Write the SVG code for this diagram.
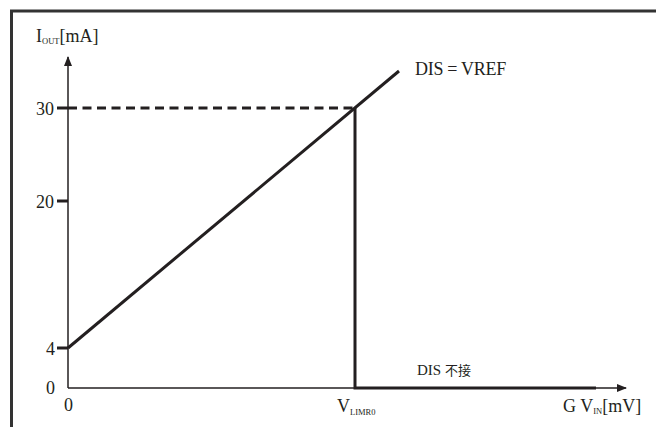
<svg xmlns="http://www.w3.org/2000/svg" width="656" height="427" viewBox="0 0 656 427">
<style>
.t{font-family:"Liberation Serif","Times New Roman",serif;fill:#231f20}
.lbl{font-size:18px}
.sub{font-size:8.5px}
.thin{stroke:#231f20;stroke-width:1.5;fill:none}
.thick{stroke:#231f20;stroke-width:3;fill:none}
.frame{stroke:#333;stroke-width:3;fill:none}
</style>
<defs>
<marker id="ah" markerWidth="10" markerHeight="8" refX="9" refY="4" orient="auto" markerUnits="userSpaceOnUse">
<path d="M0,0 L10,4 L0,8 Z" fill="#231f20"/>
</marker>
</defs>
<rect width="656" height="427" fill="#fff"/>
<g id="frame">
<path class="frame" d="M11.5,427 V11 H656"/>
</g>
<g id="connectors">
<line id="y-axis" class="thin" x1="68" y1="388" x2="68" y2="57" marker-end="url(#ah)"/>
<line id="x-axis" class="thin" x1="68" y1="388" x2="626" y2="388" marker-end="url(#ah)"/>
<line class="thick" x1="57" y1="108" x2="68" y2="108"/>
<line class="thick" x1="57" y1="201" x2="68" y2="201"/>
<line class="thick" x1="57" y1="348" x2="68" y2="348"/>
<line class="thick" x1="68" y1="108" x2="355" y2="108" stroke-dasharray="9,5.5"/>
<line class="thick" x1="68" y1="348" x2="399" y2="71"/>
<polyline class="thick" points="355,108 355,388 596,388"/>
</g>
<g id="y-labels">
<text class="t lbl" x="36" y="115">30</text>
<text class="t lbl" x="36" y="208">20</text>
<text class="t lbl" x="46" y="355">4</text>
<text class="t lbl" x="46" y="394">0</text>
<text class="t lbl" x="64" y="411">0</text>
</g>
<g id="y-title">
<text x="36" y="42" class="t lbl">I<tspan class="sub" dy="2">OUT</tspan><tspan dy="-2">[mA]</tspan></text>
</g>
<g id="label-vref">
<text class="t lbl" x="415" y="75" letter-spacing="-0.3">DIS = VREF</text>
</g>
<g id="label-dis">
<text class="t" x="417" y="375" font-size="15">DIS <tspan font-family="Noto Sans CJK SC, sans-serif" font-size="13">不接</tspan></text>
</g>
<g id="label-vlim">
<text class="t lbl" x="337" y="412">V<tspan class="sub" dy="3">LIMR0</tspan></text>
</g>
<g id="x-title">
<text class="t lbl" x="563" y="412">G V<tspan class="sub" dy="2">IN</tspan><tspan dy="-2">[mV]</tspan></text>
</g>
</svg>
